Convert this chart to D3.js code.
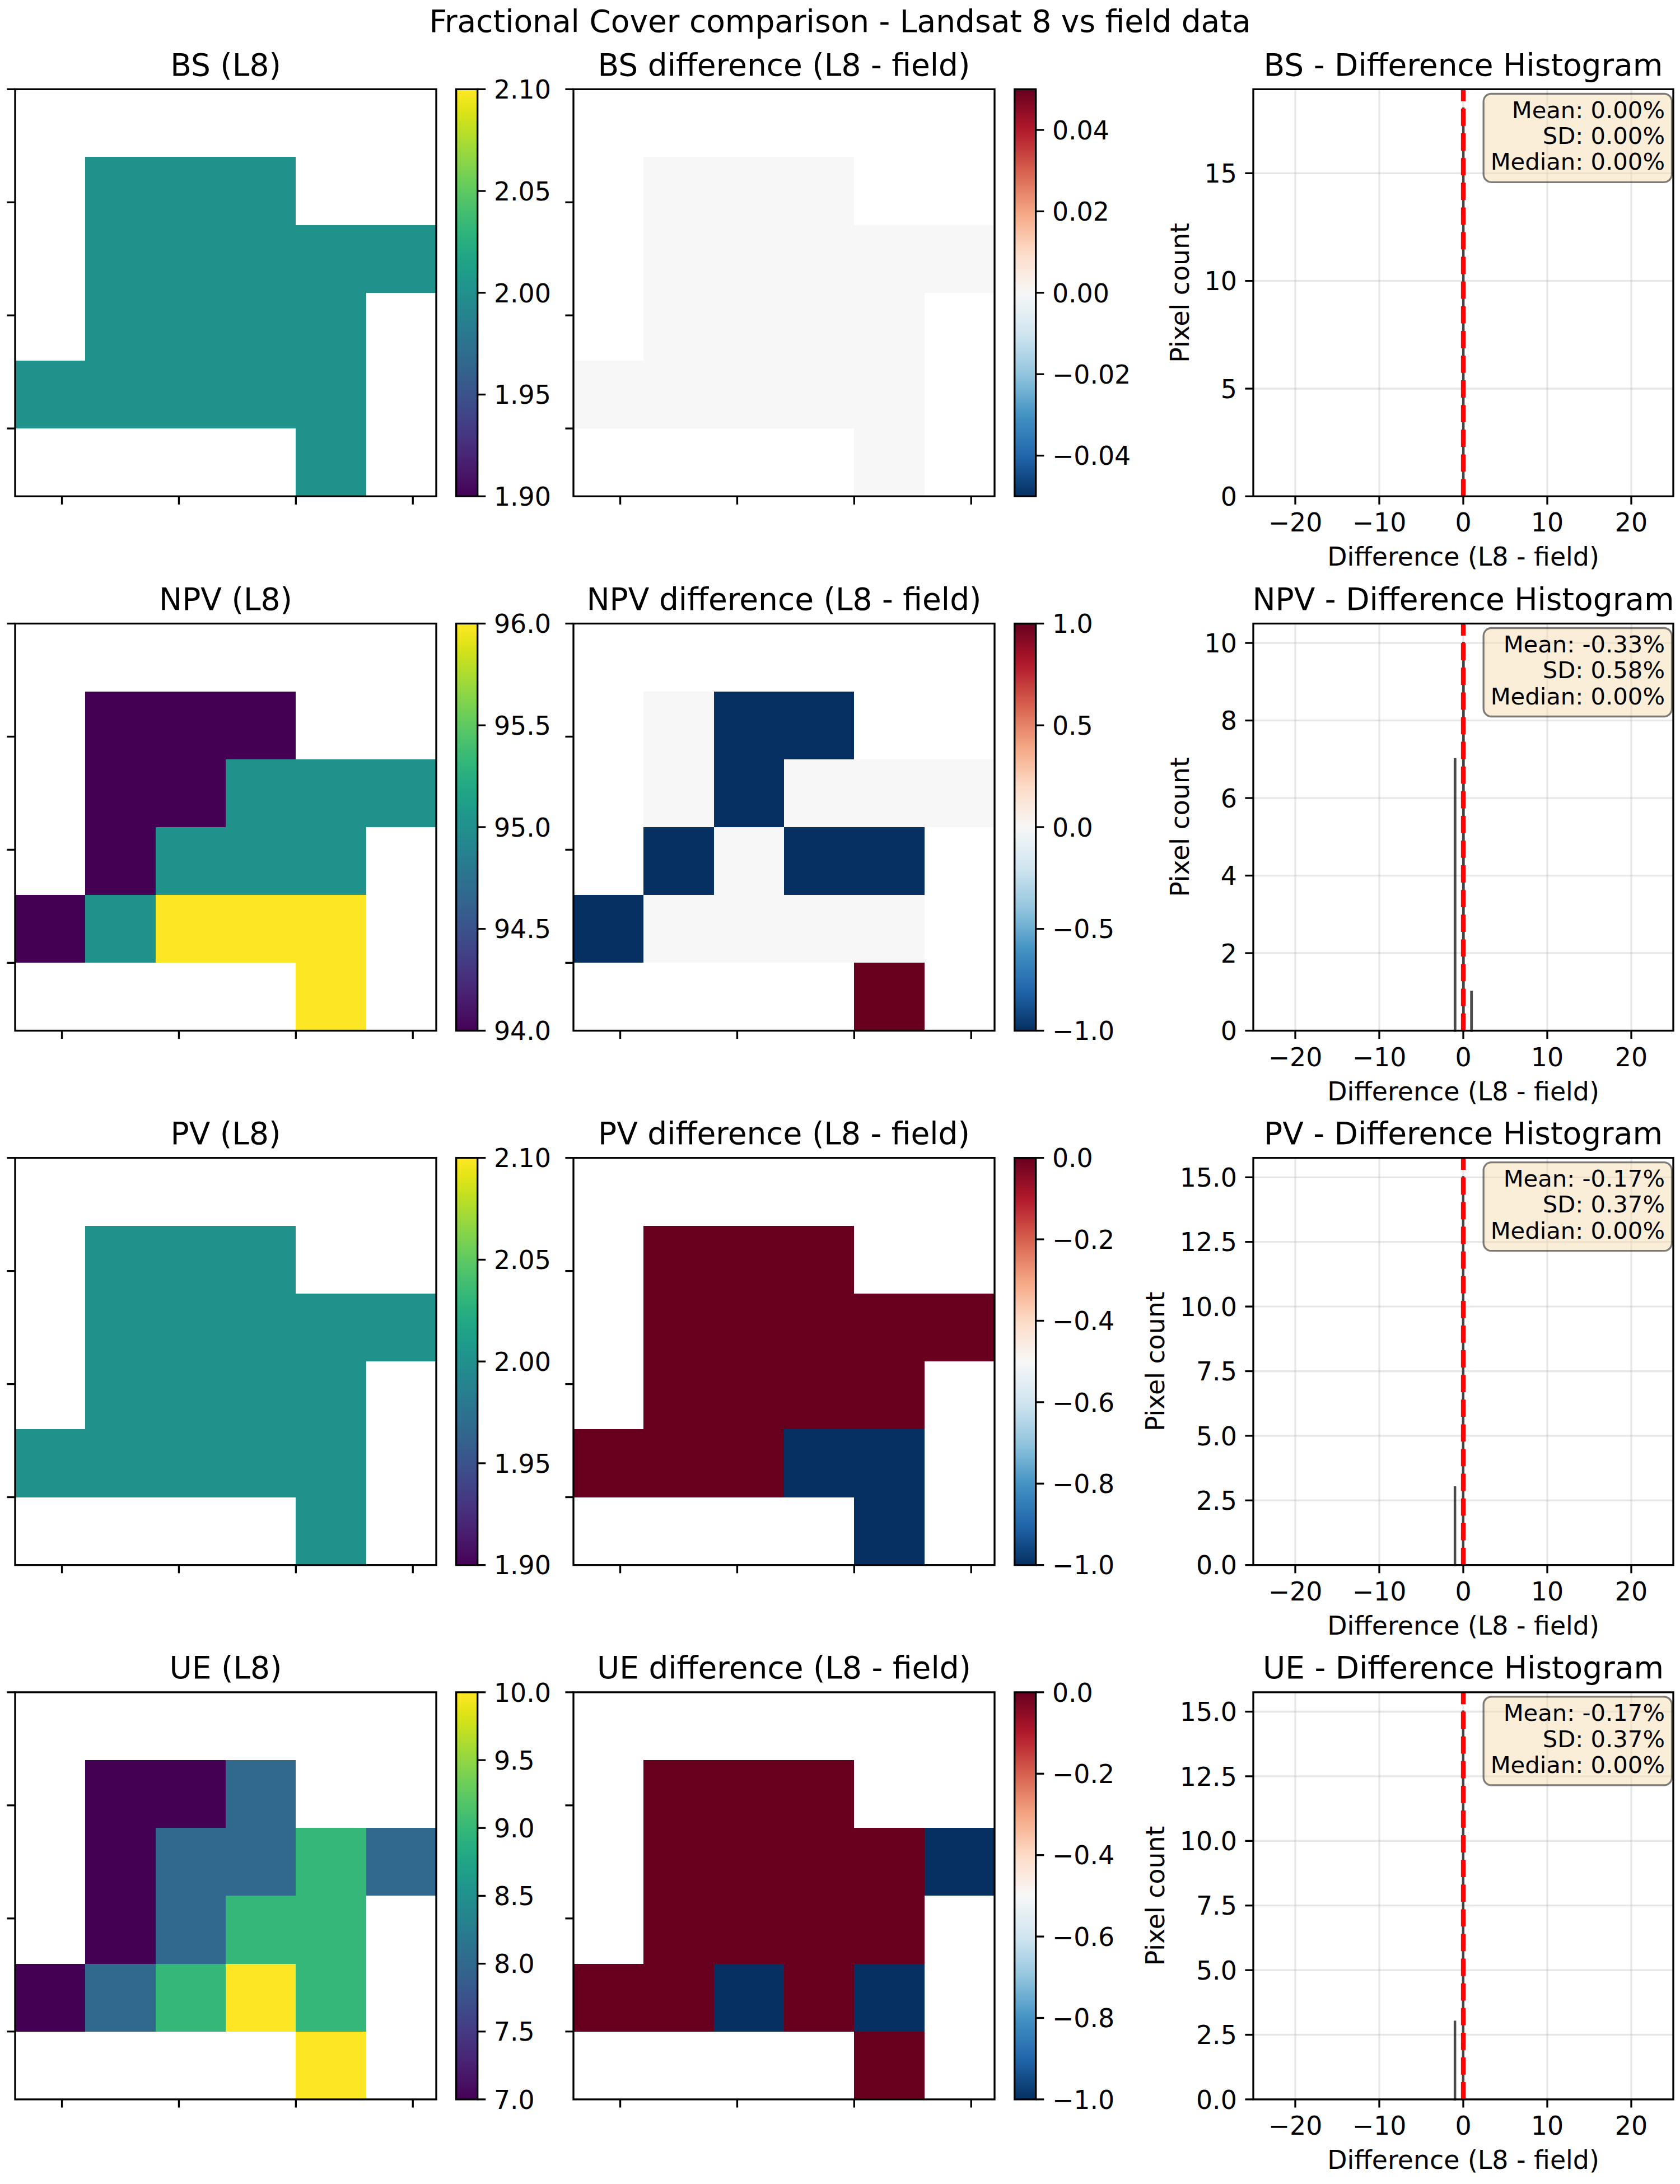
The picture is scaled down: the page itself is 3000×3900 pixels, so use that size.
<!DOCTYPE html>
<html>
<head>
<meta charset="utf-8">
<script src="https://cdn.jsdelivr.net/npm/d3@7"></script>
<style>
body{margin:0;background:#fff;}
svg{display:block;font-family:"DejaVu Sans",sans-serif;}
</style>
</head>
<body>
<div id="chart"></div>
<script>
//数据: 6x6 grids (null = no data)
var bsL8=[
    [null,null,null,null,null,null],
    [null,2,2,2,null,null],
    [null,2,2,2,2,2],
    [null,2,2,2,2,null],
    [2,2,2,2,2,null],
    [null,null,null,null,2,null]];
var bsDiff=[
    [null,null,null,null,null,null],
    [null,0,0,0,null,null],
    [null,0,0,0,0,0],
    [null,0,0,0,0,null],
    [0,0,0,0,0,null],
    [null,null,null,null,0,null]];
var npvL8=[
    [null,null,null,null,null,null],
    [null,94,94,94,null,null],
    [null,94,94,95,95,95],
    [null,94,95,95,95,null],
    [94,95,96,96,96,null],
    [null,null,null,null,96,null]];
var npvDiff=[
    [null,null,null,null,null,null],
    [null,0,-1,-1,null,null],
    [null,0,-1,0,0,0],
    [null,-1,0,-1,-1,null],
    [-1,0,0,0,0,null],
    [null,null,null,null,1,null]];
var pvL8=[
    [null,null,null,null,null,null],
    [null,2,2,2,null,null],
    [null,2,2,2,2,2],
    [null,2,2,2,2,null],
    [2,2,2,2,2,null],
    [null,null,null,null,2,null]];
var pvDiff=[
    [null,null,null,null,null,null],
    [null,0,0,0,null,null],
    [null,0,0,0,0,0],
    [null,0,0,0,0,null],
    [0,0,0,-1,-1,null],
    [null,null,null,null,-1,null]];
var ueL8=[
    [null,null,null,null,null,null],
    [null,7,7,8,null,null],
    [null,7,8,8,9,8],
    [null,7,8,9,9,null],
    [7,8,9,10,9,null],
    [null,null,null,null,10,null]];
var ueDiff=[
    [null,null,null,null,null,null],
    [null,0,0,0,null,null],
    [null,0,0,0,0,-1],
    [null,0,0,0,0,null],
    [0,0,-1,0,-1,null],
    [null,null,null,null,0,null]];

var layers=["BS","NPV","PV","UE"];
var l8Grids=[bsL8,npvL8,pvL8,ueL8];
var diffGrids=[bsDiff,npvDiff,pvDiff,ueDiff];

//色标刻度
var l8Ticks=[[1.90,1.95,2.00,2.05,2.10],[94,94.5,95,95.5,96],[1.90,1.95,2.00,2.05,2.10],[7,7.5,8,8.5,9,9.5,10]];
var l8Fmt=[".2f",".1f",".2f",".1f"];
var diffTicks=[[-0.04,-0.02,0,0.02,0.04],[-1,-0.5,0,0.5,1],[-1,-0.8,-0.6,-0.4,-0.2,0],[-1,-0.8,-0.6,-0.4,-0.2,0]];
var diffFmt=[".2f",".1f",".1f",".1f"];
//直方图刻度
var histXTicks=[-20,-10,0,10,20];
var histXLim=[-25,25];
var histYTicks=[[0,5,10,15],[0,2,4,6,8,10],[0,2.5,5,7.5,10,12.5,15],[0,2.5,5,7.5,10,12.5,15]];
var histYFmt=["d","d",".1f",".1f"];
var histBins=50;
//像元坐标 (m), tick labels hidden
var cellSize=30, originX=-20, originY=150;
var xExtent=[-20,160], yExtent=[150,-30];
var heatXTicks=[0,50,100,150], heatYTicks=[150,100,50,0];

var rdbu=["#053061","#2166ac","#4393c3","#92c5de","#d1e5f0","#f7f7f7","#fddbc7","#f4a582","#d6604d","#b2182b","#67001f"];
var rdbuR=d3.scaleLinear().domain(d3.range(11).map(function(i){return i/10;})).range(rdbu).clamp(true);
var viridis=function(t){return d3.interpolateViridis(Math.max(0,Math.min(1,t)));};

//1.定义svg
var W=3000,H=3900;
var svg=d3.select("#chart").append("svg").attr("width",W).attr("height",H);
svg.append("rect").attr("width",W).attr("height",H).attr("fill","#fff");
var defs=svg.append("defs");

//2.布局
var LW=3.33, TICK=14.6, PAD=14.6, FS=45.8, TFS=55;
var rowTop=159.3, rowStep=954.2, panelH=727;
var heatW=752, cbW=38;
var heatLeft=[27,1024], cbLeft=[814.7,1811.7];
var histLeft=2238, histW=750;

function nonsingular(lo,hi){
    if(hi-lo<1e-12){
        if(hi===0) return [-0.05,0.05];
        return [lo-0.05*Math.abs(lo),hi+0.05*Math.abs(hi)];
    }
    return [lo,hi];
}
function flatVals(grid){
    var out=[];
    grid.forEach(function(row){row.forEach(function(v){if(v!=null)out.push(v);});});
    return out;
}

function drawHeat(top,left,cbx,grid,cmap,ticks,fmt,title,gid){
    var g=svg.append("g");
    var xs=d3.scaleLinear().domain(xExtent).range([left,left+heatW]);
    var ys=d3.scaleLinear().domain(yExtent).range([top,top+panelH]);
    var vals=flatVals(grid);
    var lim=nonsingular(d3.min(vals),d3.max(vals));
    var norm=d3.scaleLinear().domain(lim).range([0,1]);
    var cells=[];
    grid.forEach(function(row,r){
        row.forEach(function(v,c){ if(v!=null) cells.push({r:r,c:c,v:v}); });
    });
    g.append("g").attr("shape-rendering","crispEdges")
        .selectAll("rect").data(cells).enter().append("rect")
        .attr("x",function(d){return xs(originX+d.c*cellSize);})
        .attr("y",function(d){return ys(originY-d.r*cellSize);})
        .attr("width",function(d){return xs(originX+(d.c+1)*cellSize)-xs(originX+d.c*cellSize);})
        .attr("height",function(d){return ys(originY-(d.r+1)*cellSize)-ys(originY-d.r*cellSize);})
        .attr("fill",function(d){return cmap(norm(d.v));});
    //边框
    g.append("rect").attr("x",left).attr("y",top).attr("width",heatW).attr("height",panelH)
        .attr("fill","none").attr("stroke","#000").attr("stroke-width",LW);
    //刻度(无标签)
    g.selectAll(".yt").data(heatYTicks).enter().append("line")
        .attr("x1",left-TICK).attr("x2",left)
        .attr("y1",function(d){return ys(d);}).attr("y2",function(d){return ys(d);})
        .attr("stroke","#000").attr("stroke-width",LW);
    g.selectAll(".xt").data(heatXTicks).enter().append("line")
        .attr("x1",function(d){return xs(d);}).attr("x2",function(d){return xs(d);})
        .attr("y1",top+panelH).attr("y2",top+panelH+TICK)
        .attr("stroke","#000").attr("stroke-width",LW);
    //标题
    g.append("text").attr("x",left+heatW/2).attr("y",top-24.5)
        .attr("text-anchor","middle").attr("font-size",TFS).text(title);
    //色标
    var grad=defs.append("linearGradient").attr("id",gid)
        .attr("x1","0").attr("y1","1").attr("x2","0").attr("y2","0");
    d3.range(65).forEach(function(i){
        grad.append("stop").attr("offset",(i/64*100)+"%").style("stop-color",cmap(i/64));
    });
    var cs=d3.scaleLinear().domain(lim).range([top+panelH,top]);
    g.append("rect").attr("x",cbx).attr("y",top).attr("width",cbW).attr("height",panelH)
        .attr("fill","url(#"+gid+")");
    g.append("rect").attr("x",cbx).attr("y",top).attr("width",cbW).attr("height",panelH)
        .attr("fill","none").attr("stroke","#000").attr("stroke-width",LW);
    var f=d3.format(fmt);
    var tg=g.selectAll(".ct").data(ticks).enter().append("g");
    tg.append("line").attr("x1",cbx+cbW).attr("x2",cbx+cbW+TICK)
        .attr("y1",function(d){return cs(d);}).attr("y2",function(d){return cs(d);})
        .attr("stroke","#000").attr("stroke-width",LW);
    tg.append("text").attr("x",cbx+cbW+TICK+PAD)
        .attr("y",function(d){return cs(d)+16.7;})
        .attr("font-size",FS).text(function(d){return f(d);});
}

function drawHist(top,diff,yTicks,yFmt,name){
    var g=svg.append("g");
    var vals=flatVals(diff);
    var lo=d3.min(vals),hi=d3.max(vals);
    if(lo===hi){lo-=0.5;hi+=0.5;}
    var edges=d3.range(histBins+1).map(function(i){return lo+i*(hi-lo)/histBins;});
    var bins=d3.bin().domain([lo,hi]).thresholds(edges.slice(1,-1))(vals);
    var ymax=d3.max(bins,function(b){return b.length;})*1.05;
    var xs=d3.scaleLinear().domain(histXLim).range([histLeft,histLeft+histW]);
    var ys=d3.scaleLinear().domain([0,ymax]).range([top+panelH,top]);
    var bottom=top+panelH;
    //网格线
    g.selectAll(".gx").data(histXTicks).enter().append("line")
        .attr("x1",function(d){return xs(d);}).attr("x2",function(d){return xs(d);})
        .attr("y1",top).attr("y2",bottom)
        .attr("stroke","#b0b0b0").attr("stroke-opacity",0.3).attr("stroke-width",LW);
    g.selectAll(".gy").data(yTicks).enter().append("line")
        .attr("x1",histLeft).attr("x2",histLeft+histW)
        .attr("y1",function(d){return ys(d);}).attr("y2",function(d){return ys(d);})
        .attr("stroke","#b0b0b0").attr("stroke-opacity",0.3).attr("stroke-width",LW);
    //柱形
    g.selectAll(".bar").data(bins.filter(function(b){return b.length>0;})).enter().append("rect")
        .attr("x",function(d){return xs(d.x0);})
        .attr("width",function(d){return xs(d.x1)-xs(d.x0);})
        .attr("y",function(d){return ys(d.length);})
        .attr("height",function(d){return bottom-ys(d.length);})
        .attr("fill","#1f77b4").attr("stroke","#000").attr("stroke-width",4.2)
        .attr("opacity",0.7);
    //零线
    g.append("line").attr("x1",xs(0)).attr("x2",xs(0)).attr("y1",bottom).attr("y2",top)
        .attr("stroke","red").attr("stroke-width",8.3).attr("stroke-dasharray","30.8,13.3");
    //边框
    g.append("rect").attr("x",histLeft).attr("y",top).attr("width",histW).attr("height",panelH)
        .attr("fill","none").attr("stroke","#000").attr("stroke-width",LW);
    //x轴
    var fx=d3.format("d");
    g.selectAll(".xt").data(histXTicks).enter().append("line")
        .attr("x1",function(d){return xs(d);}).attr("x2",function(d){return xs(d);})
        .attr("y1",bottom).attr("y2",bottom+TICK)
        .attr("stroke","#000").attr("stroke-width",LW);
    g.selectAll(".xl").data(histXTicks).enter().append("text")
        .attr("x",function(d){return xs(d);}).attr("y",bottom+63)
        .attr("text-anchor","middle").attr("font-size",FS).text(function(d){return fx(d);});
    g.append("text").attr("x",histLeft+histW/2).attr("y",bottom+124)
        .attr("text-anchor","middle").attr("font-size",FS).text("Difference (L8 - field)");
    //y轴
    var fy=d3.format(yFmt);
    g.selectAll(".yt").data(yTicks).enter().append("line")
        .attr("x1",histLeft-TICK).attr("x2",histLeft)
        .attr("y1",function(d){return ys(d);}).attr("y2",function(d){return ys(d);})
        .attr("stroke","#000").attr("stroke-width",LW);
    var yl=g.selectAll(".yl").data(yTicks).enter().append("text")
        .attr("x",histLeft-TICK-PAD).attr("y",function(d){return ys(d)+16.7;})
        .attr("text-anchor","end").attr("font-size",FS).text(function(d){return fy(d);});
    var maxW=0;
    yl.each(function(){maxW=Math.max(maxW,this.getComputedTextLength());});
    var labX=histLeft-TICK-PAD-maxW-16.7-10.8;
    g.append("text").attr("transform","translate("+labX+","+(top+panelH/2)+") rotate(-90)")
        .attr("text-anchor","middle").attr("font-size",FS).text("Pixel count");
    //标题
    g.append("text").attr("x",histLeft+histW/2).attr("y",top-24.5)
        .attr("text-anchor","middle").attr("font-size",TFS).text(name+" - Difference Histogram");
    //统计信息框
    var mean=d3.mean(vals), sd=Math.sqrt(d3.mean(vals,function(v){return (v-mean)*(v-mean);}));
    var med=d3.median(vals);
    var f2=function(v){var s=(Math.abs(v)<0.005?0:v).toFixed(2);return s+"%";};
    var lines=["Mean: "+f2(mean),"SD: "+f2(sd),"Median: "+f2(med)];
    var tx=histLeft+0.98*histW;
    var sg=g.append("g");
    var box=sg.append("rect");
    var tw=0;
    sg.selectAll("text").data(lines).enter().append("text")
        .attr("x",tx).attr("y",function(d,i){return top+51.4+i*46.3;})
        .attr("text-anchor","end").attr("font-size",41.7).text(function(d){return d;})
        .each(function(){tw=Math.max(tw,this.getComputedTextLength());});
    box.attr("x",tx-tw-12.5).attr("y",top+8).attr("width",tw+25).attr("height",158)
        .attr("rx",14).attr("ry",14)
        .attr("fill","#f5deb3").attr("fill-opacity",0.5)
        .attr("stroke","#000").attr("stroke-opacity",0.5).attr("stroke-width",3.3);
}

//3.总标题
svg.append("text").attr("x",W/2).attr("y",57).attr("text-anchor","middle")
    .attr("font-size",TFS).text("Fractional Cover comparison - Landsat 8 vs field data");

//4.逐行绘图
layers.forEach(function(name,i){
    var top=rowTop+i*rowStep;
    drawHeat(top,heatLeft[0],cbLeft[0],l8Grids[i],viridis,l8Ticks[i],l8Fmt[i],name+" (L8)","cbL8"+i);
    drawHeat(top,heatLeft[1],cbLeft[1],diffGrids[i],rdbuR,diffTicks[i],diffFmt[i],name+" difference (L8 - field)","cbDiff"+i);
    drawHist(top,diffGrids[i],histYTicks[i],histYFmt[i],name);
});
</script>
</body>
</html>
